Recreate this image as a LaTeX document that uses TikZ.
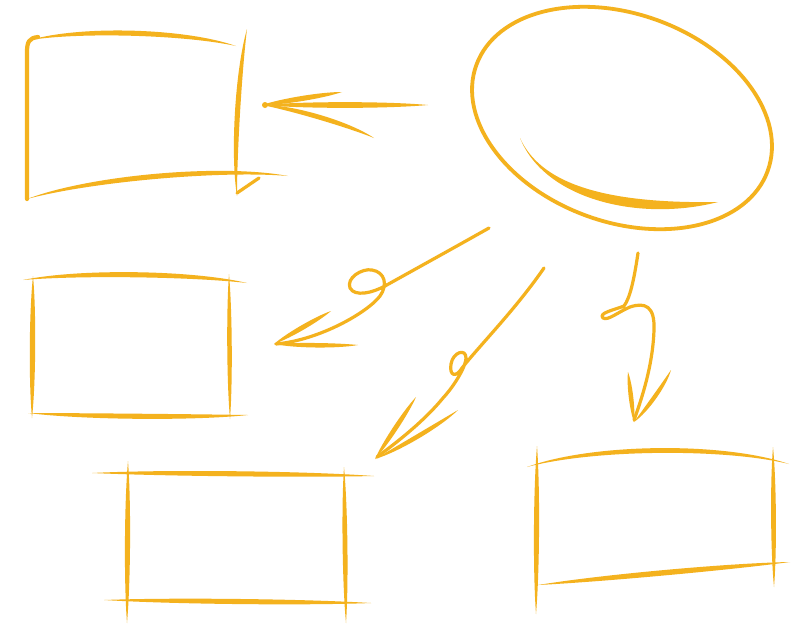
\documentclass[tikz,border=0pt]{standalone}
\usepackage{tikz}
\usetikzlibrary{calc}
\definecolor{marker}{RGB}{244,178,30}

% tapered marker stroke: from, to, bend, half width
\newcommand{\brush}[4]{%
  \pgfmathsetmacro\brushA{#3+#4}%
  \pgfmathsetmacro\brushB{#3-#4}%
  \fill[marker] #1 .. controls ($#1!0.25!#2!\brushA pt!90:#2$) and ($#1!0.75!#2!\brushA pt!90:#2$) .. #2
    .. controls ($#1!0.75!#2!\brushB pt!90:#2$) and ($#1!0.25!#2!\brushB pt!90:#2$) .. #1 -- cycle;}

\begin{document}
\begin{tikzpicture}[
  x=1pt, y=-1pt,
  pen/.style={draw=marker, line width=3.2pt, line cap=round, line join=round}
]
  \fill[white] (0,0) rectangle (805,625);
  \useasboundingbox (0,0) rectangle (805,625);

  % top left frame
  \draw[pen, line width=4.2pt] (38,37) .. controls (29,38) and (27,42) .. (27,52) -- (27,199);
  \brush{(30,40)}{(236,46)}{13}{3.4}
  \brush{(27,199)}{(288,176)}{15}{3.4}
  \brush{(247,29)}{(237,196)}{-6}{3.4}
  \draw[pen, line width=3.2pt] (237,193) -- (259,178);

  % arrow into it
  \brush{(262,105)}{(428,105)}{0}{3.8}
  \brush{(262,105)}{(342,92)}{0}{3.4}
  \brush{(262,105)}{(374,138)}{6}{3.2}
  \fill[marker] (265,105) circle (3);

  % bubble
  \draw[pen, line width=3.8pt, rotate around={-20:(622,118)}] (622,118) ellipse [x radius=155, y radius=104];
  \fill[marker] (520,138) .. controls (540,182) and (600,204) .. (718,202)
    .. controls (640,222) and (545,200) .. (520,138) -- cycle;

  % looped arrows
  \draw[pen] (489,228) .. controls (450,250) and (410,272) .. (385,286)
    .. controls (372,293) and (355,297) .. (350,288)
    .. controls (346,278) and (362,268) .. (372,270)
    .. controls (385,272) and (388,285) .. (380,296)
    .. controls (368,312) and (320,340) .. (276,344);
  \brush{(274,344)}{(358,345)}{-1}{3}
  \brush{(274,344)}{(331,311)}{0}{3.2}

  \draw[pen] (544,268) .. controls (515,310) and (480,345) .. (462,368)
    .. controls (456,378) and (449,376) .. (451,364)
    .. controls (453,352) and (466,348) .. (466,358)
    .. controls (466,366) and (455,385) .. (443,398)
    .. controls (425,420) and (400,440) .. (377,457);
  \brush{(375,459)}{(416,397)}{0}{3.2}
  \brush{(375,459)}{(458,410)}{-3}{3}

  \draw[pen] (638,253) .. controls (634,280) and (630,298) .. (624,306)
    .. controls (614,310) and (598,313) .. (603,318)
    .. controls (608,321) and (618,312) .. (630,307)
    .. controls (645,302) and (655,306) .. (654,330)
    .. controls (653,360) and (645,390) .. (634,420);
  \brush{(634,422)}{(628,372)}{0}{3}
  \brush{(634,422)}{(671,370)}{-3}{2.8}

  % middle left frame
  \brush{(23,280)}{(247,283)}{9}{3.4}
  \brush{(33,276)}{(32,418)}{0}{3.6}
  \brush{(28,413)}{(248,415)}{-3}{3.4}
  \brush{(229,274)}{(230,419)}{0}{3}

  % bottom left frame
  \brush{(92,473)}{(374,476)}{1}{3.4}
  \brush{(128,461)}{(127,623)}{0}{3.4}
  \brush{(104,600)}{(371,603)}{0}{3.4}
  \brush{(344,467)}{(346,623)}{0}{3.2}

  % bottom right frame
  \brush{(527,467)}{(789,464)}{20}{3.2}
  \brush{(537,446)}{(536,614)}{0}{3.4}
  \brush{(538,585)}{(790,562)}{1}{3.6}
  \brush{(773,447)}{(774,587)}{0}{3.2}
\end{tikzpicture}
\end{document}
